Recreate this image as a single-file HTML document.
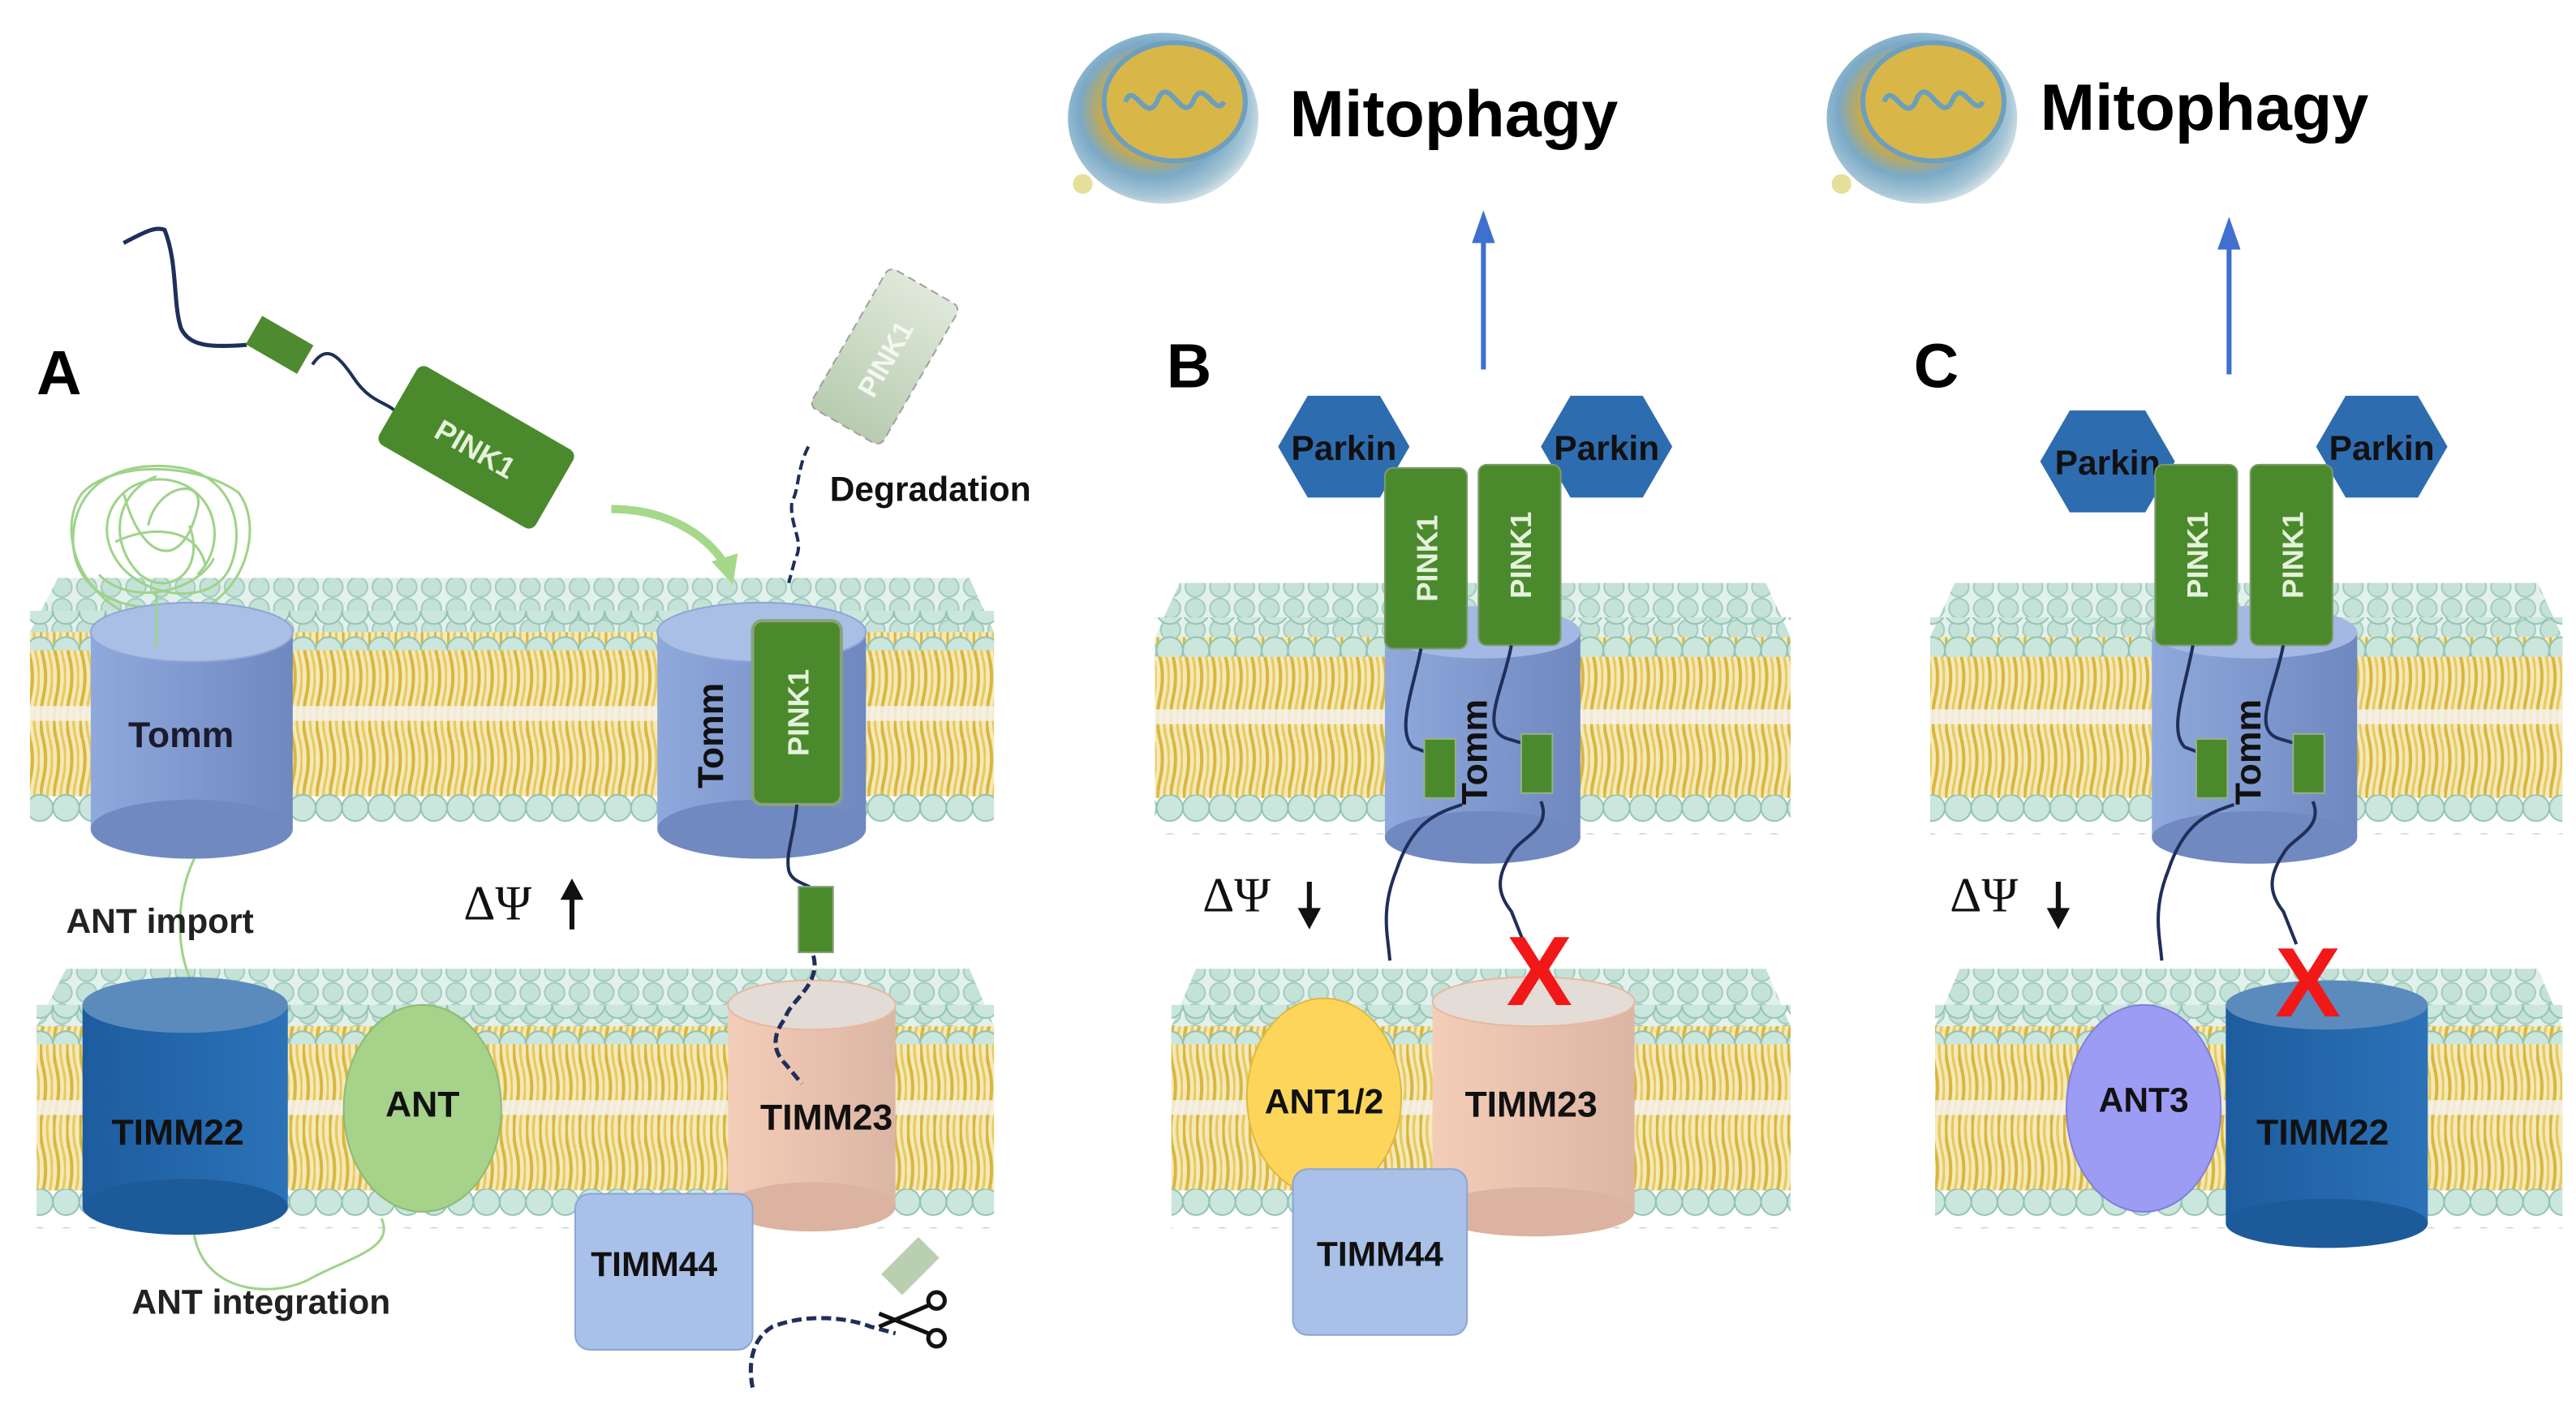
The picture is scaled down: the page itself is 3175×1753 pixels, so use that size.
<!DOCTYPE html>
<html><head><meta charset="utf-8"><style>
html,body{margin:0;padding:0;background:#fff;}
svg{display:block;}
text{font-family:"Liberation Sans",sans-serif;font-weight:bold;}
text.serif{font-family:"Liberation Serif",serif;font-weight:normal;}
</style></head><body>
<svg width="3175" height="1753" viewBox="0 0 1568 866" xmlns="http://www.w3.org/2000/svg">
<defs>
<pattern id="heads" width="15" height="13" patternUnits="userSpaceOnUse">
<rect width="15" height="13" fill="#e3f1ec"/>
<circle cx="7.5" cy="6.5" r="6" fill="#c4e2d8" stroke="#a3cbbf" stroke-width="1"/>
</pattern>
<pattern id="headrow" width="16" height="24" patternUnits="userSpaceOnUse">
<circle cx="8" cy="12" r="8" fill="#cbe6dc" stroke="#93c2b4" stroke-width="1"/>
</pattern>
<pattern id="tails" width="8" height="50" patternUnits="userSpaceOnUse">
<rect width="8" height="50" fill="#f5e9b8"/>
<path d="M2 0 Q5 12 2 25 Q-1 38 2 50" stroke="#d9b63e" stroke-width="2" fill="none"/>
<path d="M6 0 Q9 12 6 25 Q3 38 6 50" stroke="#e7c960" stroke-width="1.6" fill="none"/>
</pattern>
<linearGradient id="gTomm" x1="0" x2="1"><stop offset="0" stop-color="#8fa9dc"/><stop offset="1" stop-color="#6f88c0"/></linearGradient>
<linearGradient id="g22" x1="0" x2="1"><stop offset="0" stop-color="#1d5c9e"/><stop offset="1" stop-color="#2b72b8"/></linearGradient>
<linearGradient id="g23" x1="0" x2="1"><stop offset="0" stop-color="#f3cdb7"/><stop offset="1" stop-color="#dcb6a4"/></linearGradient>
<linearGradient id="gfade" x1="0" x2="1"><stop offset="0" stop-color="#b8ccb0"/><stop offset="1" stop-color="#dfe8da"/></linearGradient>
<radialGradient id="gmito" cx="0.45" cy="0.45" r="0.6"><stop offset="0" stop-color="#e8c752"/><stop offset="0.45" stop-color="#c9a94a"/><stop offset="0.65" stop-color="#7aa9c7"/><stop offset="0.85" stop-color="#a8c7d6"/><stop offset="1" stop-color="#e8eef0"/></radialGradient>
</defs>

<g>
<polygon points="35,352 590,352 605,385 18,385" fill="url(#heads)"/>
<rect x="18" y="385" width="587" height="100" fill="url(#tails)"/>
<rect x="18" y="430" width="587" height="9" fill="#f4f1ea" opacity="0.85"/>
<rect x="18" y="372" width="587" height="24" fill="url(#headrow)"/>
<rect x="18" y="482" width="587" height="24" fill="url(#headrow)"/>
</g>
<g>
<polygon points="40,590 590,590 605,625 22,625" fill="url(#heads)"/>
<rect x="22" y="625" width="583" height="100" fill="url(#tails)"/>
<rect x="22" y="670" width="583" height="9" fill="#f4f1ea" opacity="0.85"/>
<rect x="22" y="612" width="583" height="24" fill="url(#headrow)"/>
<rect x="22" y="724" width="583" height="24" fill="url(#headrow)"/>
</g>
<g>
<polygon points="718,355 1075,355 1090,388 703,388" fill="url(#heads)"/>
<rect x="703" y="388" width="387" height="98" fill="url(#tails)"/>
<rect x="703" y="432" width="387" height="9" fill="#f4f1ea" opacity="0.85"/>
<rect x="703" y="376" width="387" height="24" fill="url(#headrow)"/>
<rect x="703" y="484" width="387" height="24" fill="url(#headrow)"/>
</g>
<g>
<polygon points="728,590 1075,590 1090,625 713,625" fill="url(#heads)"/>
<rect x="713" y="625" width="377" height="100" fill="url(#tails)"/>
<rect x="713" y="670" width="377" height="9" fill="#f4f1ea" opacity="0.85"/>
<rect x="713" y="612" width="377" height="24" fill="url(#headrow)"/>
<rect x="713" y="724" width="377" height="24" fill="url(#headrow)"/>
</g>
<g>
<polygon points="1190,355 1545,355 1560,388 1175,388" fill="url(#heads)"/>
<rect x="1175" y="388" width="385" height="98" fill="url(#tails)"/>
<rect x="1175" y="432" width="385" height="9" fill="#f4f1ea" opacity="0.85"/>
<rect x="1175" y="376" width="385" height="24" fill="url(#headrow)"/>
<rect x="1175" y="484" width="385" height="24" fill="url(#headrow)"/>
</g>
<g>
<polygon points="1193,590 1545,590 1560,625 1178,625" fill="url(#heads)"/>
<rect x="1178" y="625" width="382" height="100" fill="url(#tails)"/>
<rect x="1178" y="670" width="382" height="9" fill="#f4f1ea" opacity="0.85"/>
<rect x="1178" y="612" width="382" height="24" fill="url(#headrow)"/>
<rect x="1178" y="724" width="382" height="24" fill="url(#headrow)"/>
</g>

<text x="22" y="240" font-size="38">A</text>
<text x="710" y="236" font-size="38">B</text>
<text x="1165" y="236" font-size="38">C</text>

<!-- ===== Panel A ===== -->
<g fill="none" stroke="#9fd38a" stroke-width="1.5">
<path d="M95 395 L95 370 C60 370 40 350 45 320 C50 290 80 280 110 285 C140 290 150 320 140 345 C130 370 85 365 70 340 C55 315 75 290 100 292 C130 295 140 330 120 350"/>
<path d="M80 375 C45 360 35 320 50 300 C70 280 120 282 145 300 C160 320 150 360 120 372"/>
<path d="M70 330 C90 320 120 320 125 345 M60 350 C80 370 120 360 130 340 M75 300 C85 340 110 350 120 310 C125 290 95 295 90 320"/>
<path d="M95 290 C70 300 65 330 85 350 C105 365 125 345 115 320"/>
</g>
<g>
<rect x="55" y="385" width="123" height="120" fill="url(#gTomm)"/>
<ellipse cx="116.5" cy="505" rx="61.5" ry="18" fill="#7089c0"/>
<ellipse cx="116.5" cy="385" rx="61.5" ry="18" fill="#a9bfe6" stroke="#8fa6d4"/>
</g>
<text x="110" y="455" font-size="22" text-anchor="middle" fill="#1b1b2e">Tomm</text>
<path d="M95 395 L95 360" stroke="#9fd38a" stroke-width="1.5"/>
<path d="M118 523 C105 550 108 585 118 600 L118 628" stroke="#9fd38a" stroke-width="1.5" fill="none"/>
<text x="40" y="568" font-size="21" fill="#222">ANT import</text>
<g>
<rect x="50" y="612" width="125" height="123" fill="url(#g22)"/>
<ellipse cx="112.5" cy="735" rx="62.5" ry="17" fill="#1c5a9a"/>
<ellipse cx="112.5" cy="612" rx="62.5" ry="17" fill="#5b8bbd"/>
</g>
<text x="108" y="697" font-size="22" text-anchor="middle" fill="#111">TIMM22</text>
<ellipse cx="257" cy="675" rx="48" ry="63" fill="#a6d28a" stroke="#8cbb74"/>
<text x="257" y="680" font-size="22" text-anchor="middle" fill="#111">ANT</text>
<path d="M118 752 C125 790 170 790 190 778 C215 765 240 760 232 742" stroke="#9fd38a" stroke-width="1.5" fill="none"/>
<text x="80" y="800" font-size="21" fill="#222">ANT integration</text>
<text class="serif" x="282" y="560" font-size="30" fill="#111">ΔΨ</text>
<path d="M348 566 L348 545" stroke="#111" stroke-width="3"/><polygon points="341,548 348,535 355,548" fill="#111"/>
<path d="M75 148 C90 140 95 138 100 140 C108 160 105 185 110 200 C115 210 125 212 150 210" stroke="#1f2f5a" stroke-width="2.5" fill="none"/>
<rect x="152" y="200" width="36" height="20" fill="#4e8a2f" transform="rotate(30 170 210)"/>
<path d="M190 222 C198 210 205 215 215 230 C225 245 235 245 240 250" stroke="#1f2f5a" stroke-width="2" fill="none"/>
<g transform="rotate(30 290 272)">
<rect x="235" y="245" width="110" height="55" rx="5" fill="#4a8a2d"/>
<text x="290" y="280" font-size="18" text-anchor="middle" fill="#e6f2dc">PINK1</text>
</g>
<path d="M372 310 C405 310 430 325 442 345" stroke="#a6d88a" stroke-width="5" fill="none"/>
<polygon points="433,342 446,356 449,337" fill="#a6d88a"/>
<g transform="rotate(-60 538 218)">
<rect x="490" y="193" width="98" height="50" rx="5" fill="url(#gfade)" stroke="#a0a0a0" stroke-dasharray="5 3"/>
<text x="538" y="225" font-size="17" text-anchor="middle" fill="#f4f7f2">PINK1</text>
</g>
<path d="M492 272 C485 285 486 300 482 305 C480 320 490 330 484 340 L480 355" stroke="#1f2f5a" stroke-width="2" stroke-dasharray="6 3" fill="none"/>
<text x="505" y="305" font-size="21" fill="#111">Degradation</text>
<g>
<rect x="400" y="385" width="127" height="120" fill="url(#gTomm)"/>
<ellipse cx="463.5" cy="505" rx="63.5" ry="18" fill="#7089c0"/>
<ellipse cx="463.5" cy="385" rx="63.5" ry="18" fill="#a9bfe6" stroke="#8fa6d4"/>
</g>
<text transform="translate(440 448) rotate(-90)" font-size="22" text-anchor="middle" fill="#111">Tomm</text>
<rect x="458" y="378" width="54" height="112" rx="6" fill="#4a8a2d" stroke="#8aa27c" stroke-width="2"/>
<text transform="translate(492 434) rotate(-90)" font-size="18" text-anchor="middle" fill="#e6f2dc">PINK1</text>
<path d="M485 490 C483 510 478 520 480 530 C482 538 492 538 495 542" stroke="#1f2f5a" stroke-width="2" fill="none"/>
<rect x="486" y="540" width="21" height="40" fill="#4a8a2d" stroke="#8aa27c"/>
<g>
<rect x="443" y="612" width="102" height="123" fill="url(#g23)"/>
<ellipse cx="494" cy="735" rx="51" ry="15" fill="#dbb3a0"/>
<ellipse cx="494" cy="612" rx="51" ry="15" fill="#e2dbd6" stroke="#e8b8a0"/>
</g>
<path d="M495 582 C500 600 480 610 478 620 C470 630 470 640 478 648 L488 660" stroke="#1f2f5a" stroke-width="2.5" stroke-dasharray="6 3" fill="none"/>
<text x="503" y="688" font-size="22" text-anchor="middle" fill="#111">TIMM23</text>
<rect x="350" y="727" width="108" height="95" rx="9" fill="#a9c0e8" stroke="#8aa6d4"/>
<text x="398" y="777" font-size="21" text-anchor="middle" fill="#111">TIMM44</text>
<path d="M458 845 C455 830 458 815 470 808 C490 800 515 802 530 808 L545 812" stroke="#1f2f5a" stroke-width="2.5" stroke-dasharray="6 3" fill="none"/>
<rect x="538" y="762" width="32" height="18" fill="#b9cfb0" transform="rotate(-45 554 771)"/>
<g stroke="#111" stroke-width="2.5" fill="none">
<path d="M535 808 L565 795 M535 800 L565 812"/>
<circle cx="570" cy="792" r="5"/><circle cx="570" cy="815" r="5"/>
</g>

<!-- ===== Panel B ===== -->
<g>
<ellipse cx="708" cy="72" rx="58" ry="52" fill="url(#gmito)"/>
<ellipse cx="715" cy="62" rx="43" ry="36" fill="#d8b648" stroke="#6c9fc0" stroke-width="3"/>
<path d="M685 62 C690 48 698 78 705 60 C712 45 720 78 727 60 C733 48 740 72 745 62" stroke="#6a9fbd" stroke-width="3" fill="none"/>
<circle cx="659" cy="112" r="6" fill="#e5df9a"/>
</g>
<text x="785" y="83" font-size="40" fill="#000">Mitophagy</text>
<path d="M903 225 L903 145" stroke="#3f6fcf" stroke-width="3"/><polygon points="896,148 903,128 910,148" fill="#3f6fcf"/>
<polygon points="778,272 796,241 840,241 858,272 840,303 796,303" fill="#2e6cb0"/>
<text x="818" y="280" font-size="21" text-anchor="middle" fill="#111">Parkin</text>
<polygon points="938,272 956,241 1000,241 1018,272 1000,303 956,303" fill="#2e6cb0"/>
<text x="978" y="280" font-size="21" text-anchor="middle" fill="#111">Parkin</text>
<g>
<rect x="843" y="385" width="119" height="125" fill="url(#gTomm)"/>
<ellipse cx="902.5" cy="510" rx="59.5" ry="16" fill="#7089c0"/>
<ellipse cx="902.5" cy="385" rx="59.5" ry="16" fill="#a3b8e2"/>
</g>
<rect x="843" y="285" width="50" height="110" rx="5" fill="#4a8a2d" stroke="#7d9a6c"/>
<text transform="translate(875 340) rotate(-90)" font-size="18" text-anchor="middle" fill="#e6f2dc">PINK1</text>
<rect x="900" y="283" width="50" height="110" rx="5" fill="#4a8a2d" stroke="#7d9a6c"/>
<text transform="translate(932 338) rotate(-90)" font-size="18" text-anchor="middle" fill="#e6f2dc">PINK1</text>
<path d="M865 395 C860 420 850 445 860 455 L868 458" stroke="#1f2f5a" stroke-width="2" fill="none"/>
<path d="M920 393 C915 420 900 445 918 450 L928 453" stroke="#1f2f5a" stroke-width="2" fill="none"/>
<rect x="867" y="450" width="19" height="36" fill="#4a8a2d" stroke="#9ab08a"/>
<rect x="926" y="447" width="19" height="36" fill="#4a8a2d" stroke="#9ab08a"/>
<text transform="translate(905 458) rotate(-90)" font-size="22" text-anchor="middle" fill="#111">Tomm</text>
<path d="M890 490 C875 495 860 500 850 530 C840 555 845 570 846 585" stroke="#1f2f5a" stroke-width="2" fill="none"/>
<path d="M938 488 C945 505 925 510 920 520 C910 535 912 545 920 555 L928 575" stroke="#1f2f5a" stroke-width="2" fill="none"/>
<text class="serif" x="732" y="555" font-size="30" fill="#111">ΔΨ</text>
<path d="M797 537 L797 556" stroke="#111" stroke-width="3"/><polygon points="790,553 797,566 804,553" fill="#111"/>
<g>
<rect x="872" y="610" width="123" height="128" fill="url(#g23)"/>
<ellipse cx="933.5" cy="738" rx="61.5" ry="15" fill="#dbb3a0"/>
<ellipse cx="933.5" cy="610" rx="61.5" ry="15" fill="#e4dcd6" stroke="#e8b8a0"/>
</g>
<text x="932" y="680" font-size="22" text-anchor="middle" fill="#111">TIMM23</text>
<ellipse cx="806" cy="668" rx="47" ry="60" fill="#fcd55a" stroke="#e0b840"/>
<text x="806" y="678" font-size="21" text-anchor="middle" fill="#111">ANT1/2</text>
<rect x="787" y="712" width="106" height="101" rx="9" fill="#a9c0e8" stroke="#8aa6d4"/>
<text x="840" y="771" font-size="21" text-anchor="middle" fill="#111">TIMM44</text>
<text x="937" y="612" font-size="60" text-anchor="middle" fill="#f21818">X</text>

<!-- ===== Panel C ===== -->
<g>
<ellipse cx="1170" cy="72" rx="58" ry="52" fill="url(#gmito)"/>
<ellipse cx="1177" cy="62" rx="43" ry="36" fill="#d8b648" stroke="#6c9fc0" stroke-width="3"/>
<path d="M1147 62 C1152 48 1160 78 1167 60 C1174 45 1182 78 1189 60 C1195 48 1202 72 1207 62" stroke="#6a9fbd" stroke-width="3" fill="none"/>
<circle cx="1121" cy="112" r="6" fill="#e5df9a"/>
</g>
<text x="1242" y="79" font-size="40" fill="#000">Mitophagy</text>
<path d="M1357 228 L1357 150" stroke="#3f6fcf" stroke-width="3"/><polygon points="1350,152 1357,132 1364,152" fill="#3f6fcf"/>
<polygon points="1242,281 1260,250 1306,250 1324,281 1306,312 1260,312" fill="#2e6cb0"/>
<text x="1283" y="289" font-size="21" text-anchor="middle" fill="#111">Parkin</text>
<polygon points="1410,272 1428,241 1472,241 1490,272 1472,303 1428,303" fill="#2e6cb0"/>
<text x="1450" y="280" font-size="21" text-anchor="middle" fill="#111">Parkin</text>
<g>
<rect x="1310" y="385" width="125" height="125" fill="url(#gTomm)"/>
<ellipse cx="1372.5" cy="510" rx="62.5" ry="16" fill="#7089c0"/>
<ellipse cx="1372.5" cy="385" rx="62.5" ry="16" fill="#a3b8e2"/>
</g>
<rect x="1312" y="283" width="50" height="110" rx="5" fill="#4a8a2d" stroke="#7d9a6c"/>
<text transform="translate(1344 338) rotate(-90)" font-size="18" text-anchor="middle" fill="#e6f2dc">PINK1</text>
<rect x="1370" y="283" width="50" height="110" rx="5" fill="#4a8a2d" stroke="#7d9a6c"/>
<text transform="translate(1402 338) rotate(-90)" font-size="18" text-anchor="middle" fill="#e6f2dc">PINK1</text>
<path d="M1335 393 C1330 420 1320 445 1330 455 L1338 458" stroke="#1f2f5a" stroke-width="2" fill="none"/>
<path d="M1390 393 C1385 420 1370 445 1388 450 L1398 453" stroke="#1f2f5a" stroke-width="2" fill="none"/>
<rect x="1337" y="450" width="19" height="36" fill="#4a8a2d" stroke="#9ab08a"/>
<rect x="1396" y="447" width="19" height="36" fill="#4a8a2d" stroke="#9ab08a"/>
<text transform="translate(1376 458) rotate(-90)" font-size="22" text-anchor="middle" fill="#111">Tomm</text>
<path d="M1360 490 C1345 495 1330 500 1320 530 C1310 555 1315 570 1316 585" stroke="#1f2f5a" stroke-width="2" fill="none"/>
<path d="M1408 488 C1415 505 1395 510 1390 520 C1380 535 1382 545 1390 555 L1398 575" stroke="#1f2f5a" stroke-width="2" fill="none"/>
<text class="serif" x="1187" y="555" font-size="30" fill="#111">ΔΨ</text>
<path d="M1253 537 L1253 556" stroke="#111" stroke-width="3"/><polygon points="1246,553 1253,566 1260,553" fill="#111"/>
<ellipse cx="1305" cy="675" rx="47" ry="63" fill="#9c9cf5" stroke="#8080d8"/>
<text x="1305" y="677" font-size="21" text-anchor="middle" fill="#111">ANT3</text>
<g>
<rect x="1355" y="612" width="123" height="133" fill="url(#g22)"/>
<ellipse cx="1416.5" cy="745" rx="61.5" ry="15" fill="#1c5a9a"/>
<ellipse cx="1416.5" cy="612" rx="61.5" ry="15" fill="#5b8bbd"/>
</g>
<text x="1414" y="697" font-size="22" text-anchor="middle" fill="#111">TIMM22</text>
<text x="1405" y="619" font-size="60" text-anchor="middle" fill="#f21818">X</text>
</svg>
</body></html>
